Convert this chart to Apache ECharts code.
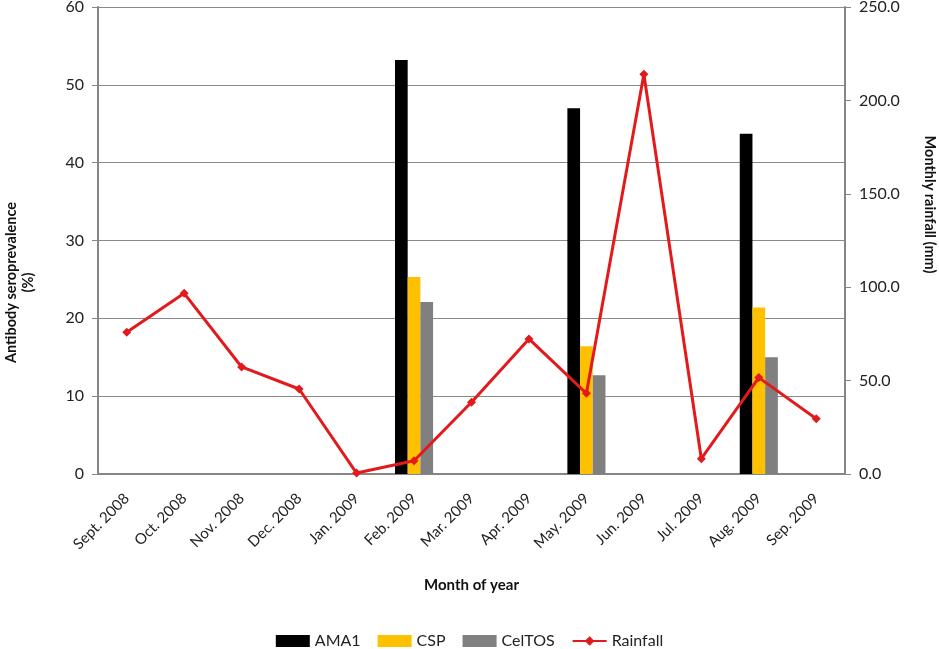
<!DOCTYPE html>
<html>
<head>
<meta charset="utf-8">
<script src="https://cdn.jsdelivr.net/npm/echarts@6/dist/echarts.min.js"></script>
<style>html,body{margin:0;padding:0;background:#fff;}#c{width:939px;height:649px;}</style>
</head>
<body>
<div id="c"></div>
<script>
const months = ['Sept. 2008','Oct. 2008','Nov. 2008','Dec. 2008','Jan. 2009','Feb. 2009','Mar. 2009','Apr. 2009','May. 2009','Jun. 2009','Jul. 2009','Aug. 2009','Sep. 2009'];
const ama1 = [null,null,null,null,null,53.2,null,null,47.0,null,null,43.7,null];
const csp = [null,null,null,null,null,25.3,null,null,16.4,null,null,21.4,null];
const celtos = [null,null,null,null,null,22.1,null,null,12.7,null,null,15.0,null];
const rainfall = [75.9,96.7,57.3,45.5,0.5,7.1,38.4,72.3,43.2,214.0,8.2,51.6,29.6];
const leftTicks = {min:0,max:60,interval:10};
const rightTicks = {min:0,max:250,interval:50};

const font = 'Lato';
const axisGray = '#868686';
const chart = echarts.init(document.getElementById('c'));
chart.setOption({
  animation:false,
  textStyle:{fontFamily:font},
  grid:{left:98,right:94,top:7,bottom:175,containLabel:false,outerBoundsMode:'none'},
  legend:{
    top:628,left:'center',itemWidth:34,itemHeight:12,itemGap:17,
    textStyle:{fontFamily:font,fontSize:16,color:'#222'},
    data:[{name:'AMA1',icon:'rect'},{name:'CSP',icon:'rect'},{name:'CelTOS',icon:'rect'},{name:'Rainfall'}]
  },
  xAxis:{
    type:'category',data:months,boundaryGap:true,
    name:'Month of year',nameLocation:'middle',nameGap:104,
    nameTextStyle:{fontWeight:'bold',fontSize:15,color:'#111'},
    axisLine:{lineStyle:{color:axisGray,width:2}},
    axisTick:{alignWithLabel:false,length:6,lineStyle:{color:axisGray}},
    axisLabel:{rotate:45,fontSize:15,color:'#222',margin:22,interval:0}
  },
  yAxis:[{
    type:'value',min:leftTicks.min,max:leftTicks.max,interval:leftTicks.interval,
    name:'Antibody seroprevalence\n(%)',nameLocation:'middle',nameGap:61,
    nameTextStyle:{fontWeight:'bold',fontSize:14.5,color:'#111',lineHeight:17,padding:[0,84,0,0]},
    axisLine:{show:true,lineStyle:{color:axisGray,width:2}},
    axisTick:{show:true,length:6,lineStyle:{color:axisGray}},
    axisLabel:{fontSize:16,color:'#222',margin:14},
    splitLine:{lineStyle:{color:'#8a8a8a',width:1.2}}
  },{
    type:'value',min:rightTicks.min,max:rightTicks.max,interval:rightTicks.interval,position:'right',
    name:'Monthly rainfall (mm)',nameLocation:'middle',nameGap:77,nameRotate:-90,
    nameTextStyle:{fontWeight:'bold',fontSize:14.5,color:'#111',padding:[0,72,0,0]},
    axisLine:{show:true,lineStyle:{color:axisGray,width:2}},
    axisTick:{show:true,length:6,lineStyle:{color:axisGray}},
    axisLabel:{fontSize:16,color:'#222',margin:14,formatter:v=>v.toFixed(1)},
    splitLine:{show:false}
  }],
  series:[
    {name:'AMA1',type:'bar',data:ama1,barWidth:12.7,barGap:'0%',itemStyle:{color:'#000000'}},
    {name:'CSP',type:'bar',data:csp,barWidth:12.7,barGap:'0%',itemStyle:{color:'#FFC000'}},
    {name:'CelTOS',type:'bar',data:celtos,barWidth:12.7,barGap:'0%',itemStyle:{color:'#808080'}},
    {name:'Rainfall',type:'line',yAxisIndex:1,data:rainfall,symbol:'diamond',symbolSize:9,
     lineStyle:{color:'#E31A1C',width:3},itemStyle:{color:'#E31A1C'},z:5}
  ]
});
</script>
</body>
</html>
